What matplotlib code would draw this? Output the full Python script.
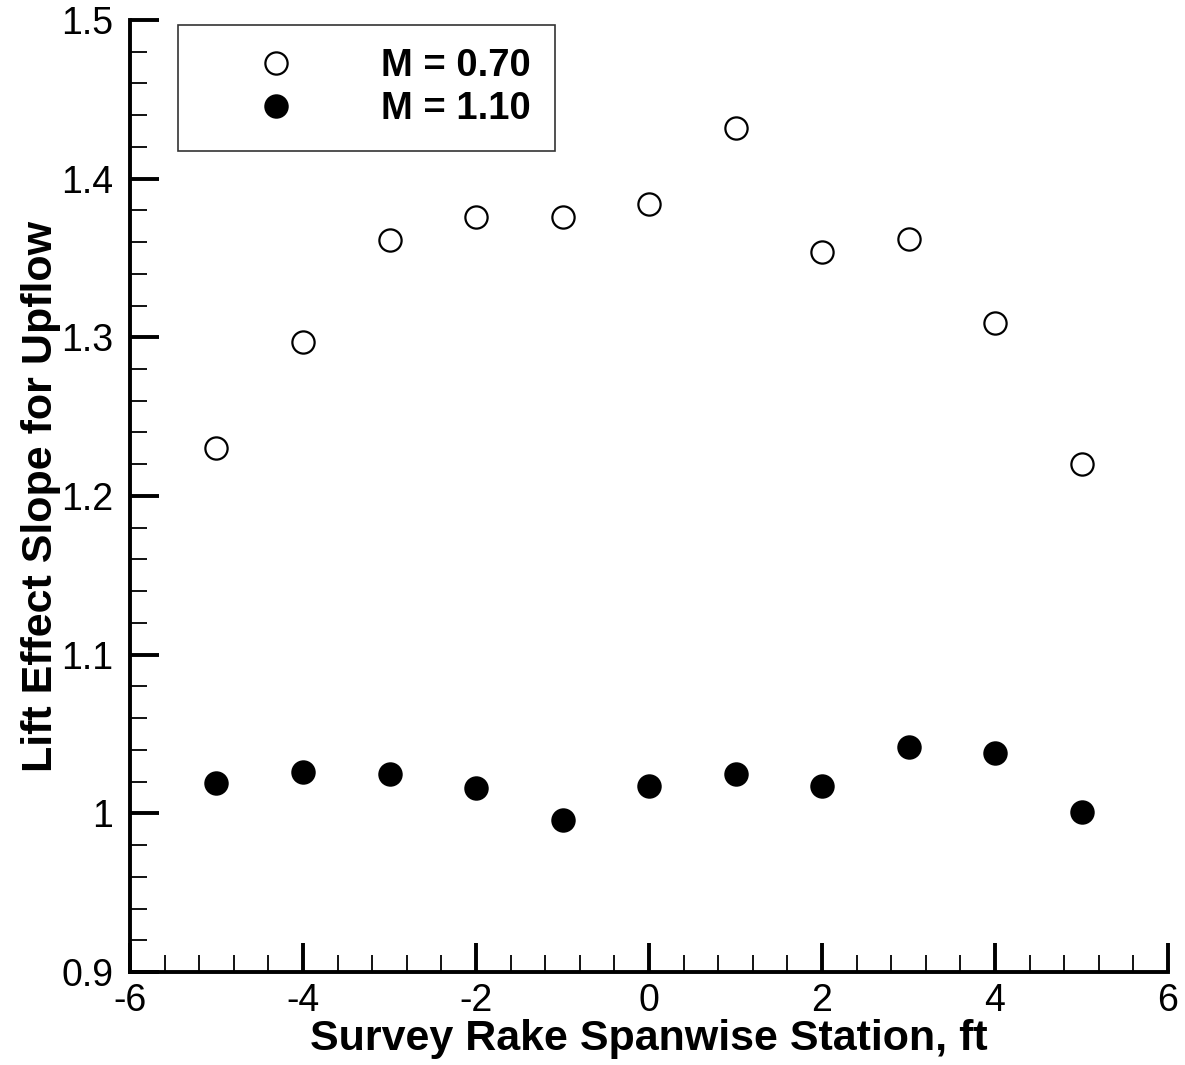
import matplotlib
matplotlib.use("Agg")
import matplotlib.pyplot as plt
from matplotlib.ticker import MultipleLocator, FuncFormatter

plt.rcParams['font.family'] = ['Liberation Sans', 'DejaVu Sans']
plt.rcParams['axes.unicode_minus'] = False

# spanwise stations (ft)
station = [-5, -4, -3, -2, -1, 0, 1, 2, 3, 4, 5]
# lift effect slope for upflow
slope_m070 = [1.230, 1.297, 1.361, 1.376, 1.376, 1.384, 1.432, 1.354, 1.362, 1.309, 1.220]
slope_m110 = [1.019, 1.026, 1.025, 1.016, 0.996, 1.017, 1.025, 1.017, 1.042, 1.038, 1.001]
labels = ["M = 0.70", "M = 1.10"]

fig = plt.figure(figsize=(11.85, 10.65), dpi=100)
ax = fig.add_axes([0.1097, 0.0873, 0.876, 0.894])

ax.plot(station, slope_m070, 'o', ms=16, mfc='white', mec='black', mew=1.6,
        label=labels[0], clip_on=False)
ax.plot(station, slope_m110, 'o', ms=16, mfc='black', mec='black', mew=1.6,
        label=labels[1], clip_on=False)

ax.set_xlim(-6, 6)
ax.set_ylim(0.9, 1.5)

ax.xaxis.set_major_locator(MultipleLocator(2))
ax.xaxis.set_minor_locator(MultipleLocator(0.4))
ax.yaxis.set_major_locator(MultipleLocator(0.1))
ax.yaxis.set_minor_locator(MultipleLocator(0.02))
ax.yaxis.set_major_formatter(FuncFormatter(lambda v, p: f"{v:g}"))
ax.xaxis.set_major_formatter(FuncFormatter(lambda v, p: f"{v:g}"))

ax.spines['top'].set_visible(False)
ax.spines['right'].set_visible(False)
ax.spines['left'].set_linewidth(2.8)
ax.spines['bottom'].set_linewidth(2.8)

ax.tick_params(which='major', direction='in', length=21, width=2.8,
               labelsize=27)
ax.tick_params(which='minor', direction='in', length=12, width=1.3)
ax.tick_params(axis='y', which='major', pad=12)
ax.tick_params(axis='x', which='major', pad=8)

ax.set_xlabel("Survey Rake Spanwise Station, ft", fontsize=31,
              fontweight='bold', labelpad=0)
ax.set_ylabel("Lift Effect Slope for Upflow", fontsize=31,
              fontweight='bold', labelpad=0)

leg = ax.legend(loc='upper left', bbox_to_anchor=(0.0462, 0.995),
                prop={'size': 27.5, 'weight': 'bold'}, frameon=True,
                fancybox=False, handlelength=3.9, handletextpad=0.8,
                borderpad=0.62, labelspacing=0.18, borderaxespad=0)
leg.get_frame().set_edgecolor('black')
leg.get_frame().set_linewidth(1.2)
for t in leg.get_texts():
    t.set_ha('right')

fig.savefig("out.png", dpi=100)
